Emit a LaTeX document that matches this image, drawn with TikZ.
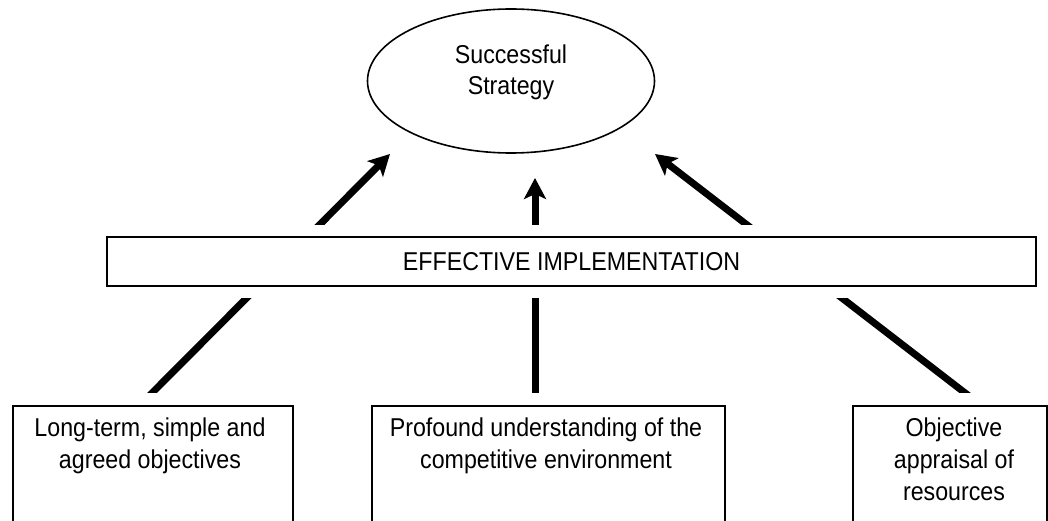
\documentclass[tikz,border=0pt]{standalone}
\usepackage{fontspec}
\setmainfont{Liberation Sans}[FakeStretch=0.9]
\usetikzlibrary{arrows.meta,shapes.geometric}
\begin{document}
\begin{tikzpicture}[x=1pt,y=-1pt,
  txt/.style={font=\fontsize{25.8}{31.7}\selectfont, align=center, inner sep=0pt},
  goal/.style={ellipse, draw, line width=1.6pt, minimum width=287pt, minimum height=144pt, inner sep=0pt},
  band/.style={rectangle, draw, line width=2pt, minimum width=929pt, minimum height=49pt, inner sep=0pt},
  factor/.style={rectangle, draw, line width=2pt, inner sep=0pt, anchor=north west, minimum height=130pt},
  link/.style={line width=7pt, line cap=butt},
  push/.style={link, -{Stealth[length=21pt,width=22pt,inset=5pt]}}
]
\fill[white] (0,0) rectangle (1048,521);
\useasboundingbox (0,0) rectangle (1048,521);
\clip (0,0) rectangle (1048,521);

% goal
\node[goal] (goal) at (511,81) {};
\node[txt, anchor=base] (goaltext) at (511,95) {Successful\\Strategy};

% implementation band
\node[band, txt, inner sep=0pt, minimum width=929pt, minimum height=49pt] (impl) at (571.5,261.5) {EFFECTIVE IMPLEMENTATION};

% factor boxes
\node[factor, minimum width=280pt] (lt) at (12,405) {};
\node[factor, minimum width=353pt] (pu) at (371,405) {};
\node[factor, minimum width=194pt] (oa) at (852,405) {};
\node[txt, anchor=base] (lttext) at (150,468.4) {Long-term, simple and\\agreed objectives};
\node[txt, anchor=base] (putext) at (546,468.4) {Profound understanding of the\\competitive environment};
\node[txt, anchor=base] (oatext) at (954,500.1) {Objective\\appraisal of\\resources};

% lower connectors
\begin{scope}
\clip (0,298) rectangle (1048,392);
\coordinate (l1) at (145,400);   \coordinate (l2) at (254.6,290);
\coordinate (m1) at (535,400);   \coordinate (m2) at (535,290);
\coordinate (r1) at (974.2,400); \coordinate (r2) at (831.5,290);
\draw[link] (l1) -- (l2);
\draw[link] (m1) -- (m2);
\draw[link] (r1) -- (r2);
\end{scope}

% upper arrows
\begin{scope}
\clip (0,0) rectangle (1048,225);
\coordinate (ul) at (304.4,240); \coordinate (tl) at (390,154);
\coordinate (um) at (535,240);   \coordinate (tm) at (535,178);
\coordinate (ur) at (766.6,240); \coordinate (tr) at (655,154);
\draw[push] (ul) -- (tl);
\draw[push] (um) -- (tm);
\draw[push] (ur) -- (tr);
\end{scope}
\end{tikzpicture}
\end{document}
